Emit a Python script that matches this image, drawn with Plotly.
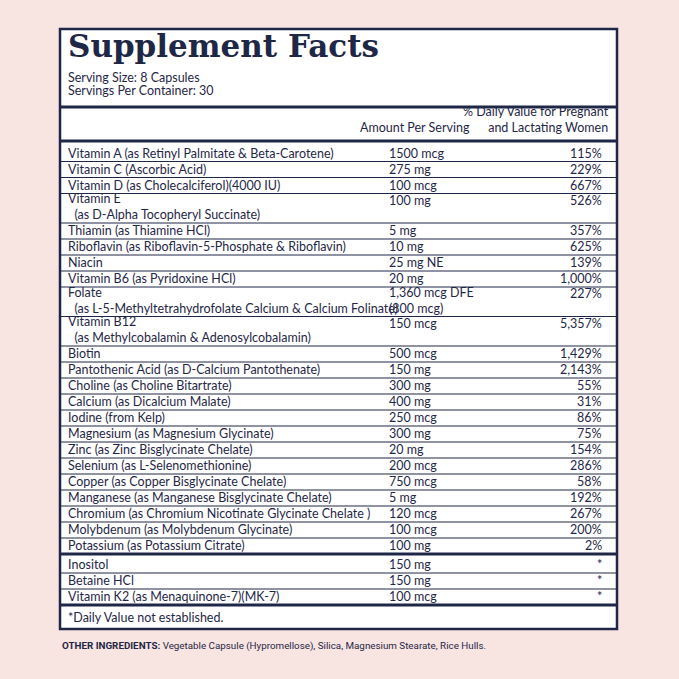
import plotly.graph_objects as go

# Label data
title = "Supplement Facts"
serving_lines = ["Serving Size: 8 Capsules", "Servings Per Container: 30"]
nutrients = [
    "Vitamin A (as Retinyl Palmitate & Beta-Carotene)",
    "Vitamin C (Ascorbic Acid)",
    "Vitamin D (as Cholecalciferol)(4000 IU)",
    "Vitamin E<br>  (as D-Alpha Tocopheryl Succinate)",
    "Thiamin (as Thiamine HCl)",
    "Riboflavin (as Riboflavin-5-Phosphate & Riboflavin)",
    "Niacin",
    "Vitamin B6 (as Pyridoxine HCl)",
    "Folate<br>  (as L-5-Methyltetrahydrofolate Calcium & Calcium Folinate)",
    "Vitamin B12<br>  (as Methylcobalamin & Adenosylcobalamin)",
    "Biotin",
    "Pantothenic Acid (as D-Calcium Pantothenate)",
    "Choline (as Choline Bitartrate)",
    "Calcium (as Dicalcium Malate)",
    "Iodine (from Kelp)",
    "Magnesium (as Magnesium Glycinate)",
    "Zinc (as Zinc Bisglycinate Chelate)",
    "Selenium (as L-Selenomethionine)",
    "Copper (as Copper Bisglycinate Chelate)",
    "Manganese (as Manganese Bisglycinate Chelate)",
    "Chromium (as Chromium Nicotinate Glycinate Chelate )",
    "Molybdenum (as Molybdenum Glycinate)",
    "Potassium (as Potassium Citrate)",
]
amounts = ["1500 mcg", "275 mg", "100 mcg", "100 mg", "5 mg", "10 mg", "25 mg NE",
           "20 mg", "1,360 mcg DFE<br>(800 mcg)", "150 mcg", "500 mcg", "150 mg",
           "300 mg", "400 mg", "250 mcg", "300 mg", "20 mg", "200 mcg", "750 mcg",
           "5 mg", "120 mcg", "100 mcg", "100 mg"]
daily_values = ["115%", "229%", "667%", "526%", "357%", "625%", "139%", "1,000%",
                "227%", "5,357%", "1,429%", "2,143%", "55%", "31%", "86%", "75%",
                "154%", "286%", "58%", "192%", "267%", "200%", "2%"]
other_names = ["Inositol", "Betaine HCl", "Vitamin K2 (as Menaquinone-7)(MK-7)"]
other_amounts = ["150 mg", "150 mg", "100 mcg"]
other_dv = ["*", "*", "*"]
footnote = "*Daily Value not established."
ingredients = "Vegetable Capsule (Hypromellose), Silica, Magnesium Stearate, Rice Hulls."

navy = "#1f2747"
bg = "#f8e4e1"
body_font = dict(family="Lato, sans-serif", size=12.5, color=navy)

fig = go.Figure()
shapes = []
ann = []

L, R, T, B = 60, 617, 29, 629
shapes.append(dict(type="rect", x0=L, x1=R, y0=T, y1=B, fillcolor="white",
                   line=dict(color=navy, width=2.5)))

ann.append(dict(x=66, y=66, text="<b>" + title + "</b>", xanchor="left", yanchor="bottom",
                font=dict(family="DejaVu Serif", size=31, color=navy)))
ann.append(dict(x=66, y=87, text=serving_lines[0], xanchor="left", yanchor="bottom", font=body_font))
ann.append(dict(x=66, y=100, text=serving_lines[1], xanchor="left", yanchor="bottom", font=body_font))
shapes.append(dict(type="line", x0=L, x1=R, y0=107, y1=107, line=dict(color=navy, width=3)))

ann.append(dict(x=415, y=137, text="Amount Per Serving", xanchor="center", yanchor="bottom", font=body_font))
ann.append(dict(x=611, y=137, text="% Daily Value for Pregnant<br>and Lactating Women",
                xanchor="right", yanchor="bottom", align="right", font=body_font))
shapes.append(dict(type="line", x0=L, x1=R, y0=141, y1=141, line=dict(color=navy, width=3)))

x_name, x_amt, x_dv = 66, 387, 604


def add_rows(names, amts, dvs, y, last_width):
    for i, (n, a, d) in enumerate(zip(names, amts, dvs)):
        double = "<br>" in n or "<br>" in a
        y += 29.5 if double else 16.0
        for x, txt, anc in ((x_name, n, "left"), (x_amt, a, "left"), (x_dv, d, "right")):
            yb = y if ("<br>" in txt or not double) else y - 14.5
            ann.append(dict(x=x, y=yb + 1, text=txt, xanchor=anc, yanchor="bottom",
                            align="left", font=body_font))
        w = last_width if i == len(names) - 1 else 1
        shapes.append(dict(type="line", x0=L, x1=R, y0=y, y1=y, line=dict(color=navy, width=w)))
    return y


y = add_rows(nutrients, amounts, daily_values, 145.5, 3)
y = add_rows(other_names, other_amounts, other_dv, y + 3, 3)

ann.append(dict(x=66, y=y + 3, text=footnote, xanchor="left", yanchor="top", font=body_font))
ann.append(dict(x=60, y=646, text="<b>OTHER INGREDIENTS:</b> " + ingredients, xanchor="left",
                yanchor="middle", font=dict(family="Liberation Sans Narrow, Roboto", size=9.8, color=navy)))

for a in ann:
    a.update(xref="x", yref="y", showarrow=False)
for s in shapes:
    s.update(xref="x", yref="y")

fig.update_layout(
    width=679, height=679, margin=dict(l=0, r=0, t=0, b=0),
    paper_bgcolor=bg, plot_bgcolor=bg, showlegend=False,
    xaxis=dict(range=[0, 679], visible=False, fixedrange=True),
    yaxis=dict(range=[679, 0], visible=False, fixedrange=True),
    shapes=shapes, annotations=ann,
)
fig.write_html("out.html", config=dict(displayModeBar=False),
               post_script="document.body.style.margin='0';document.body.style.overflow='hidden';"
                           "document.body.style.background='%s';" % bg)
